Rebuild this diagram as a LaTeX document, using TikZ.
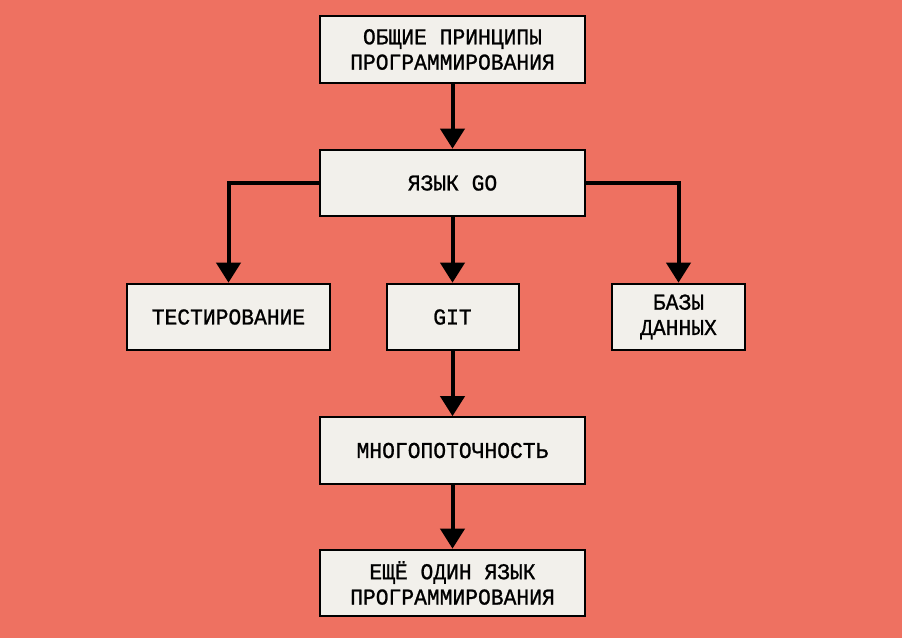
\documentclass[tikz,border=0pt]{standalone}
\usepackage{fontspec}
\setmonofont{Liberation Mono}[FakeStretch=0.94,FakeBold=1]
\usetikzlibrary{arrows.meta}

\definecolor{bgred}{HTML}{EE7161}
\definecolor{boxfill}{HTML}{F2F0EB}

\begin{document}
\begin{tikzpicture}[x=0.75pt,y=-0.75pt,line cap=butt,line join=miter,
  every node/.style={inner sep=1pt},
  stage/.style={draw=black,line width=1.5pt,fill=boxfill,align=center,
    font=\ttfamily\fontsize{17}{19}\selectfont},
  flow/.style={line width=3pt,-{Triangle[width=18pt,length=15pt]}}]
  % background and bounding box
  \fill[bgred] (0,0) rectangle (902,638);
  \useasboundingbox (0,0) rectangle (902,638);
  % boxes
  \node[stage,minimum width=198.75pt,minimum height=50pt] (basics) at (452.5,49.5) {ОБЩИЕ ПРИНЦИПЫ\\ПРОГРАММИРОВАНИЯ};
  \node[stage,minimum width=198.75pt,minimum height=50pt] (golang) at (452.5,183) {ЯЗЫК GO};
  \node[stage,minimum width=152pt,minimum height=50pt] (testing) at (228.5,317) {ТЕСТИРОВАНИЕ};
  \node[stage,minimum width=99pt,minimum height=50pt] (git) at (452.5,317) {GIT};
  \node[stage,minimum width=99.75pt,minimum height=50pt] (dbs) at (678.5,317) {БАЗЫ\\ДАННЫХ};
  \node[stage,minimum width=198.75pt,minimum height=50pt] (threads) at (452.5,450.5) {МНОГОПОТОЧНОСТЬ};
  \node[stage,minimum width=198.75pt,minimum height=50pt] (another) at (452.5,583) {ЕЩЁ ОДИН ЯЗЫК\\ПРОГРАММИРОВАНИЯ};
  % connectors
  \draw[flow] (basics) -- (golang);
  \draw[flow] (golang.west) -| (testing.north);
  \draw[flow] (golang) -- (git);
  \draw[flow] (golang.east) -| (dbs.north);
  \draw[flow] (git) -- (threads);
  \draw[flow] (threads) -- (another);
\end{tikzpicture}
\end{document}
